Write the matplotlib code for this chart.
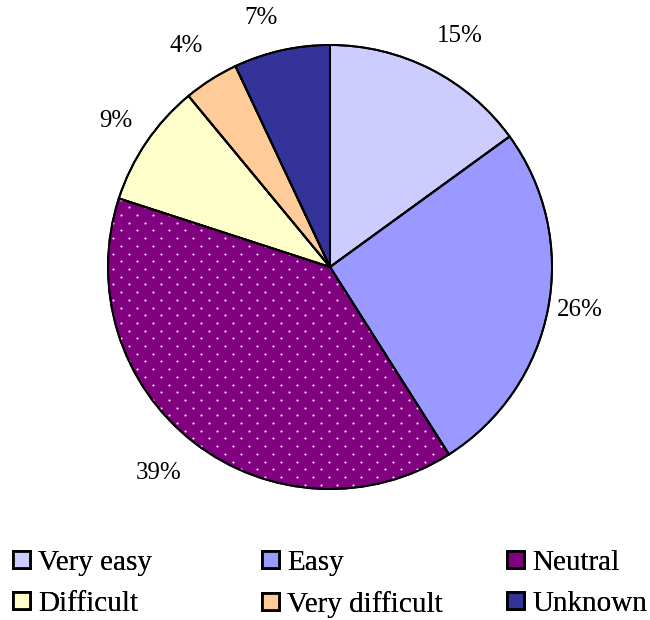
import numpy as np
import matplotlib
matplotlib.use('Agg')
import matplotlib.pyplot as plt
from matplotlib.patches import Patch

plt.rcParams['font.family'] = ['Liberation Serif', 'DejaVu Serif']

# --- data ---
categories = ['Very easy', 'Easy', 'Neutral', 'Difficult', 'Very difficult', 'Unknown']
shares = [15, 26, 39, 9, 4, 7]
colors = ['#CCCCFF', '#9999FF', '#800080', '#FFFFCC', '#FFCC99', '#333399']

# label placement (radius factor, angle nudge in degrees), Excel-style
label_r = [1.194, 1.143, 1.206, 1.167, 1.188, 1.164]
label_nudge = [-2.4, 1.0, -1.9, -0.1, 0.6, 2.9]

fig = plt.figure(figsize=(6.5, 6.2), dpi=100)
ax = fig.add_axes([108 / 650, 130 / 620, 444 / 650, 446 / 620])

wedges, texts, autotexts = ax.pie(
    shares, colors=colors, startangle=90, counterclock=False,
    autopct='%d%%', pctdistance=1.17,
    wedgeprops=dict(edgecolor='black', linewidth=1.4),
    textprops=dict(fontsize=18, color='black'))

for w, t, r, nd in zip(wedges, autotexts, label_r, label_nudge):
    ang = np.deg2rad((w.theta1 + w.theta2) / 2 + nd)
    t.set_position((r * np.cos(ang), r * np.sin(ang)))

# white dot pattern on the Neutral slice
neutral = wedges[categories.index('Neutral')]
dx, dy = 0.072, 0.0347
pts = []
for i, yy in enumerate(np.arange(-1.05, 1.05, dy)):
    off = dx / 2 if i % 2 else 0.0
    for xx in np.arange(-1.05 + off, 1.05, dx):
        pts.append((xx, yy))
pts = np.array(pts)
dots = ax.scatter(pts[:, 0], pts[:, 1], s=2.5, color='#F0D8F0',
                  linewidths=0, zorder=neutral.get_zorder() + 0.1)
dots.set_clip_path(neutral)
# redraw outline on top of dots
ax.pie(shares, colors=['none'] * len(shares), startangle=90, counterclock=False,
       wedgeprops=dict(edgecolor='black', linewidth=1.4, zorder=5))
ax.set_aspect('equal')
ax.set_xlim(-1, 1)
ax.set_ylim(-1, 1)

# --- legend, three columns ---
handles = [Patch(facecolor=c, edgecolor='black', linewidth=2.0) for c in colors]
col_x = [0.020, 0.403, 0.780]
for k in range(3):
    idx = [k, k + 3]
    leg = fig.legend([handles[i] for i in idx], [categories[i] for i in idx],
                     loc='upper left', bbox_to_anchor=(col_x[k], 0.113),
                     ncol=1, frameon=False, fontsize=21,
                     handlelength=0.58, handleheight=0.5, handletextpad=0.28,
                     labelspacing=0.52, borderaxespad=0, borderpad=0)
    fig.add_artist(leg)

fig.savefig('out.png', dpi=100)
